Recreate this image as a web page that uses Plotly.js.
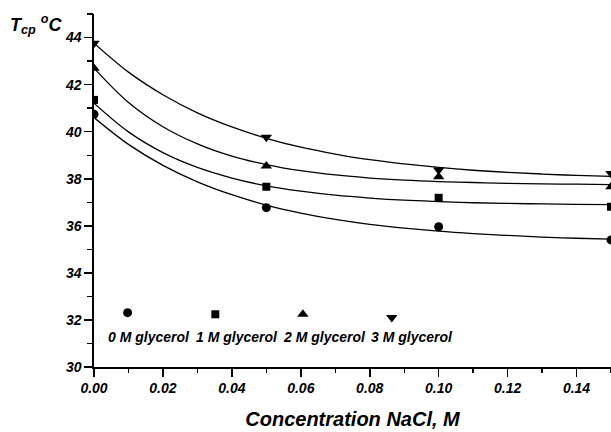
<!DOCTYPE html>
<html>
<head>
<meta charset="utf-8">
<script src="https://cdn.plot.ly/plotly-3.0.1.min.js"></script>
<style>html,body{margin:0;padding:0;background:#fff;}#chart{width:611px;height:432px;}</style>
</head>
<body>
<div id="chart"></div>
<script>
// Measured data (NaCl concentration, M) and cloud-point temperature (°C)
var conc = [0, 0.05, 0.10, 0.15];
var tcp0 = [40.74, 36.77, 35.96, 35.40];
var tcp1 = [41.35, 37.66, 37.19, 36.81];
var tcp2 = [42.70, 38.54, 38.08, 37.66];
var tcp3 = [43.76, 39.76, 38.37, 38.22];

// Fitted curves
var fitX = [0, 0.01, 0.02, 0.03, 0.04, 0.05, 0.06, 0.07, 0.08, 0.09, 0.10, 0.11, 0.12, 0.13, 0.14, 0.15];
var fit0 = [40.60, 39.46, 38.57, 37.87, 37.32, 36.88, 36.54, 36.27, 36.06, 35.90, 35.77, 35.67, 35.59, 35.52, 35.47, 35.43];
var fit1 = [41.21, 39.99, 39.11, 38.48, 38.03, 37.70, 37.47, 37.30, 37.18, 37.09, 37.03, 36.98, 36.95, 36.93, 36.91, 36.90];
var fit2 = [42.70, 41.24, 40.21, 39.48, 38.96, 38.60, 38.34, 38.16, 38.03, 37.94, 37.88, 37.84, 37.80, 37.78, 37.77, 37.75];
var fit3 = [43.76, 42.53, 41.57, 40.80, 40.20, 39.72, 39.34, 39.05, 38.81, 38.63, 38.48, 38.36, 38.27, 38.20, 38.14, 38.10];

// Tick labels
var xTickVals = [0, 0.02, 0.04, 0.06, 0.08, 0.10, 0.12, 0.14];
var xTickText = ["0.00", "0.02", "0.04", "0.06", "0.08", "0.10", "0.12", "0.14"];
var yTickVals = [30, 32, 34, 36, 38, 40, 42, 44];
var yTickText = ["30", "32", "34", "36", "38", "40", "42", "44"];

// In-plot key
var keyLabels = ["0 M glycerol", "1 M glycerol", "2 M glycerol", "3 M glycerol"];
var keySymbols = ["circle", "square", "triangle-up", "triangle-down"];
var keyMarkX = [0.00975, 0.0352, 0.0606, 0.0864];
var keyMarkY = [32.31, 32.24, 32.24, 32.10];
var keyTextX = [0.0159, 0.0415, 0.0669, 0.0923];
var keyTextY = [31.26, 31.26, 31.26, 31.26];

var series = [tcp0, tcp1, tcp2, tcp3];
var fits = [fit0, fit1, fit2, fit3];
var sizes = [9, 8, 10, 10];

var FONT = "Liberation Sans";
var tickFont = {family: FONT, size: 14, color: "#000", weight: "bold", style: "italic"};
function bi(s) { return "<b><i>" + s + "</i></b>"; }

var traces = [];
for (var i = 0; i < 4; i++) {
  traces.push({x: fitX, y: fits[i], mode: "lines", line: {color: "#000", width: 1.3, shape: "spline"},
    showlegend: false, hoverinfo: "skip"});
}
for (var i = 0; i < 4; i++) {
  traces.push({x: conc, y: series[i], mode: "markers", cliponaxis: true,
    marker: {symbol: keySymbols[i], size: sizes[i], color: "#000"}, showlegend: false});
  // key markers live on the overlay axes (same ranges) that carry the minor ticks
  traces.push({x: [keyMarkX[i]], y: [keyMarkY[i]], xaxis: "x2", yaxis: "y2", mode: "markers",
    marker: {symbol: keySymbols[i], size: sizes[i], color: "#000"}, showlegend: false});
}

var annotations = [];
for (var i = 0; i < 4; i++) {
  annotations.push({x: keyTextX[i], y: keyTextY[i], xref: "x", yref: "y", text: bi(keyLabels[i]),
    showarrow: false, font: {family: FONT, size: 14, color: "#000"}, xanchor: "center", yanchor: "middle"});
}
annotations.push({x: -0.166, y: 0.969, xref: "paper", yref: "paper", xanchor: "left", yanchor: "middle",
  text: bi("T<sub>cp</sub> <sup>o</sup>C"), showarrow: false, font: {family: FONT, size: 18, color: "#000"}});

var baseAxis = {showgrid: false, zeroline: false, fixedrange: true};
var layout = {
  width: 611, height: 432,
  margin: {l: 94, r: 0, t: 14, b: 65},
  paper_bgcolor: "#fff", plot_bgcolor: "rgba(0,0,0,0)",
  showlegend: false,
  font: {family: FONT, color: "#000"},
  xaxis: Object.assign({}, baseAxis, {
    range: [0, 0.15],
    showline: true, linecolor: "#000", linewidth: 1.6,
    ticks: "outside", ticklen: 8, tickwidth: 1.6, tickcolor: "#000",
    tickmode: "array", tickvals: xTickVals, ticktext: xTickText,
    tickfont: tickFont,
    title: {text: bi("Concentration NaCl, M"), font: {family: FONT, size: 20, color: "#000"}, standoff: 16}
  }),
  yaxis: Object.assign({}, baseAxis, {
    range: [30, 45],
    showline: true, linecolor: "#000", linewidth: 1.6,
    ticks: "outside", ticklen: 8, tickwidth: 1.6, tickcolor: "#000",
    tickmode: "array", tickvals: yTickVals, ticktext: yTickText,
    tickfont: tickFont
  }),
  xaxis2: Object.assign({}, baseAxis, {
    overlaying: "x", side: "bottom", anchor: "y", range: [0, 0.15],
    showline: false, showticklabels: false,
    ticks: "outside", ticklen: 5, tickwidth: 1.4, tickcolor: "#000",
    tickmode: "linear", tick0: 0, dtick: 0.01
  }),
  yaxis2: Object.assign({}, baseAxis, {
    overlaying: "y", side: "left", anchor: "x", range: [30, 45],
    showline: false, showticklabels: false,
    ticks: "outside", ticklen: 6, tickwidth: 1.4, tickcolor: "#000",
    tickmode: "linear", tick0: 30, dtick: 1
  }),
  annotations: annotations
};

Plotly.newPlot("chart", traces, layout, {displayModeBar: false, staticPlot: true});
</script>
</body>
</html>
